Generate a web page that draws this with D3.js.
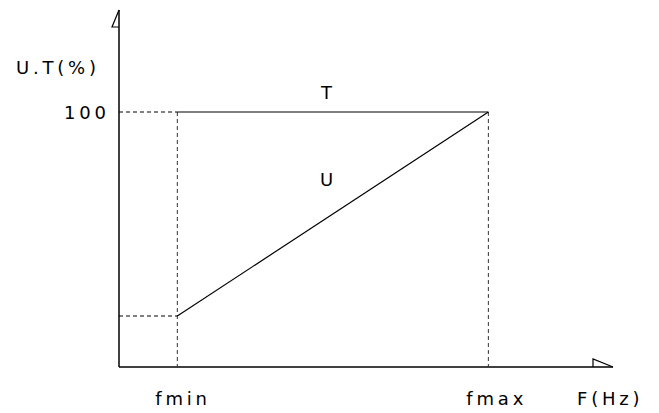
<!DOCTYPE html>
<html>
<head>
<meta charset="utf-8">
<script src="https://cdn.jsdelivr.net/npm/d3@7"></script>
<style>
  body { margin: 0; background: #fff; }
  text { font-family: "DejaVu Sans", sans-serif; font-size: 18px; letter-spacing: 3.8px; fill: #000; }
</style>
</head>
<body>
<svg id="chart" width="659" height="413"></svg>
<script>
// frequency points (arbitrary units, only fmin/fmax matter)
const freqLabels = ["fmin", "fmax"];
const freqValues = [12, 76];
// percent values at fmin / fmax
const uValues = [20, 100];
const tValues = [100, 100];
const yTickValues = [100];
const yTickLabels = ["100"];

const svg = d3.select("#chart");

const x = d3.scaleLinear().domain([0, 100]).range([119, 605]);
const y = d3.scaleLinear().domain([0, 140]).range([367, 10]);

// axes
svg.append("line")
    .attr("x1", x(0)).attr("x2", x(0))
    .attr("y1", y(0)).attr("y2", y(140))
    .attr("stroke", "#000").attr("stroke-width", 1.5);
svg.append("line")
    .attr("x1", x(0)).attr("x2", 613)
    .attr("y1", y(0)).attr("y2", y(0))
    .attr("stroke", "#000").attr("stroke-width", 1.5);

// half arrow heads
svg.append("path")
    .attr("d", `M${x(0)},${y(140)} L${x(0) - 7},${y(140) + 17} L${x(0)},${y(140) + 17}`)
    .attr("fill", "none").attr("stroke", "#000").attr("stroke-width", 1.2);
svg.append("path")
    .attr("d", `M613,${y(0)} L593,${y(0) - 8} L593,${y(0)}`)
    .attr("fill", "none").attr("stroke", "#000").attr("stroke-width", 1.2);

// dashed guides
const dash = "4,3";
freqValues.forEach(function(f) {
    svg.append("line")
        .attr("x1", x(f)).attr("x2", x(f))
        .attr("y1", y(100)).attr("y2", y(0))
        .attr("stroke", "#333").attr("stroke-width", 1).attr("stroke-dasharray", dash);
});
svg.append("line")
    .attr("x1", x(0)).attr("x2", x(freqValues[0]))
    .attr("y1", y(100)).attr("y2", y(100))
    .attr("stroke", "#000").attr("stroke-width", 1).attr("stroke-dasharray", dash);
svg.append("line")
    .attr("x1", x(0)).attr("x2", x(freqValues[0]))
    .attr("y1", y(uValues[0])).attr("y2", y(uValues[0]))
    .attr("stroke", "#000").attr("stroke-width", 1).attr("stroke-dasharray", dash);

// T and U lines
const line = d3.line()
    .x(function(d, i) { return x(freqValues[i]); })
    .y(function(d) { return y(d); });

svg.append("path").datum(tValues)
    .attr("d", line).attr("fill", "none").attr("stroke", "#000").attr("stroke-width", 1.2);
svg.append("path").datum(uValues)
    .attr("d", line).attr("fill", "none").attr("stroke", "#000").attr("stroke-width", 1.2);

// labels
svg.append("text").attr("x", 16).attr("y", 74).text("U.T(%)");
yTickValues.forEach(function(v, i) {
    svg.append("text").attr("x", 64).attr("y", y(v) + 7).text(yTickLabels[i]);
});
svg.append("text").attr("x", 321).attr("y", 99).text("T");
svg.append("text").attr("x", 320).attr("y", 186).text("U");
freqLabels.forEach(function(l, i) {
    svg.append("text").attr("x", x(freqValues[i]) - 22).attr("y", 405).text(l);
});
svg.append("text").attr("x", 577).attr("y", 405).text("F(Hz)");
</script>
</body>
</html>
